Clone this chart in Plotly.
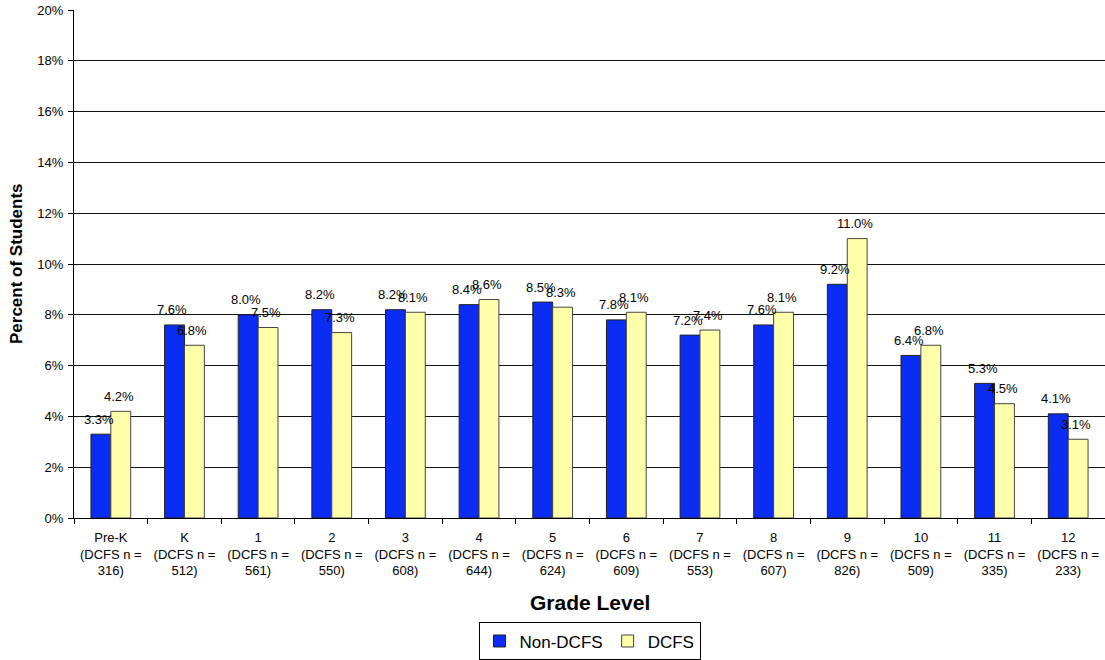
import plotly.graph_objects as go

grades = ["Pre-K", "K", "1", "2", "3", "4", "5", "6", "7", "8", "9", "10", "11", "12"]
dcfs_n = [316, 512, 561, 550, 608, 644, 624, 609, 553, 607, 826, 509, 335, 233]
non_dcfs = [3.3, 7.6, 8.0, 8.2, 8.2, 8.4, 8.5, 7.8, 7.2, 7.6, 9.2, 6.4, 5.3, 4.1]
dcfs = [4.2, 6.8, 7.5, 7.3, 8.1, 8.6, 8.3, 8.1, 7.4, 8.1, 11.0, 6.8, 4.5, 3.1]

cats = [f"{g}<br>(DCFS n =<br>{n})" for g, n in zip(grades, dcfs_n)]

FONT = "Liberation Sans, Arial, sans-serif"
blue = "#0B2CF2"
yellow = "#FFFFAA"

fig = go.Figure()
fig.add_trace(go.Bar(name="Non-DCFS", x=cats, y=non_dcfs, marker=dict(color=blue, line=dict(color="#222222", width=1))))
fig.add_trace(go.Bar(name="DCFS", x=cats, y=dcfs, marker=dict(color=yellow, line=dict(color="#444444", width=1))))

annotations = []
for c, v in zip(cats, non_dcfs):
    annotations.append(dict(x=c, y=v, xref="x", yref="y", text=f"{v:.1f}%", showarrow=False,
                            xshift=-12, yshift=15, yanchor="middle", font=dict(family=FONT, size=13, color="black")))
for c, v in zip(cats, dcfs):
    annotations.append(dict(x=c, y=v, xref="x", yref="y", text=f"{v:.1f}%", showarrow=False,
                            xshift=8, yshift=15, yanchor="middle", font=dict(family=FONT, size=13, color="black")))

annotations.append(dict(text="<b>Percent of Students</b>", xref="paper", yref="paper", x=0, y=0.5,
                        xanchor="center", yanchor="middle",
                        xshift=-58, textangle=-90, showarrow=False, font=dict(family=FONT, size=17, color="black")))
annotations.append(dict(text="<b>Grade Level</b>", xref="paper", yref="paper", x=0.5, y=0,
                        xanchor="center", yanchor="middle",
                        yshift=-84, showarrow=False, font=dict(family=FONT, size=21, color="black")))

fig.update_layout(
    width=1105, height=660,
    margin=dict(l=74, r=0, t=10, b=142, autoexpand=False),
    paper_bgcolor="white", plot_bgcolor="white",
    barmode="group", bargap=0.46, bargroupgap=0,
    font=dict(family=FONT, size=13, color="black"),
    showlegend=True,
    legend=dict(orientation="h", x=0.5, xanchor="center", y=-0.243, yanchor="middle",
                bordercolor="black", borderwidth=1, font=dict(family=FONT, size=17, color="black"),
                bgcolor="white", tracegroupgap=0),
    annotations=annotations,
    hovermode=False,
)
fig.update_xaxes(showline=True, linecolor="black", linewidth=1, ticks="outside", tickson="boundaries",
                 ticklen=5, tickcolor="black", showgrid=False, tickfont=dict(family=FONT, size=13), tickangle=0,
                 ticklabelstandoff=7, automargin=False)
fig.update_yaxes(range=[0, 20], dtick=2, ticksuffix="%", showline=True, linecolor="black", linewidth=1,
                 ticks="outside", ticklen=5, tickcolor="black", showgrid=True, gridcolor="#111111", gridwidth=1,
                 tickfont=dict(family=FONT, size=13), zeroline=False, ticklabelstandoff=2, automargin=False)

# remove the default 8px page margin so the figure fills the window exactly
fig.write_html("out.html", config={"displayModeBar": False},
               post_script="document.body.style.margin='0';document.body.style.overflow='hidden';")
